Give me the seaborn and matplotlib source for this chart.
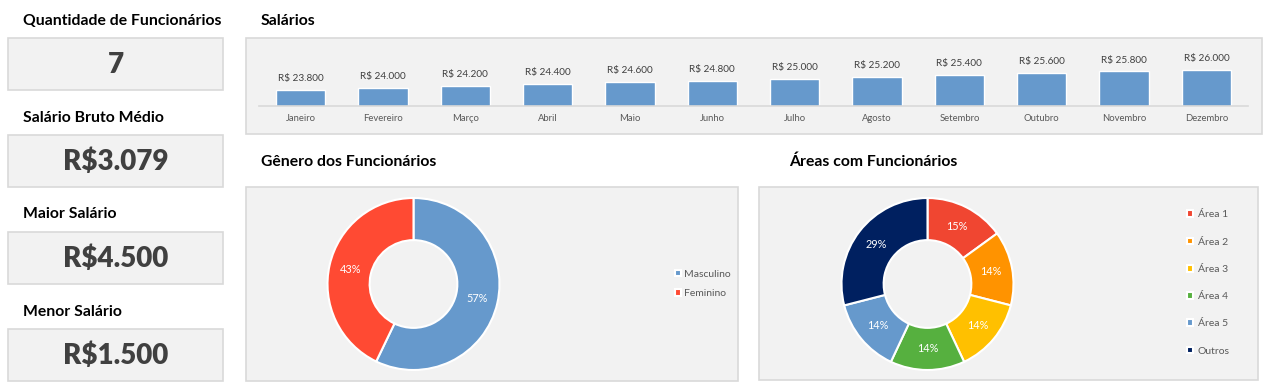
import matplotlib
matplotlib.use("Agg")
import matplotlib.pyplot as plt
import seaborn as sns
from matplotlib.patches import Rectangle

# ---------------- data ----------------
card_titles = ["Quantidade de Funcionários", "Salário Bruto Médio", "Maior Salário", "Menor Salário"]
card_values = ["7", "R$3.079", "R$4.500", "R$1.500"]

months = ["Janeiro", "Fevereiro", "Março", "Abril", "Maio", "Junho",
          "Julho", "Agosto", "Setembro", "Outubro", "Novembro", "Dezembro"]
salaries = [23800, 24000, 24200, 24400, 24600, 24800,
            25000, 25200, 25400, 25600, 25800, 26000]

gender_labels = ["Masculino", "Feminino"]
gender_counts = [4, 3]
gender_colors = ["#6699CC", "#FF4A33"]

area_labels = ["Área 1", "Área 2", "Área 3", "Área 4", "Área 5", "Outros"]
area_values = [15, 14, 14, 14, 14, 29]
area_colors = ["#F04631", "#FF9300", "#FFC000", "#56B03F", "#6699CC", "#002060"]

# ---------------- style ----------------
sns.set_theme(style="white")
plt.rcParams["font.family"] = ["Lato", "DejaVu Sans"]

W, H = 1279, 389
fig = plt.figure(figsize=(W / 100, H / 100), dpi=100)
fig.patch.set_facecolor("white")

PANEL = "#F2F2F2"
BORDER = "#D9D9D9"
DARK = "#404040"
GRAY = "#595959"
TITLE_FS = 11.3


def rect(x0, y0, x1, y1):
    return [x0 / W, 1 - y1 / H, (x1 - x0) / W, (y1 - y0) / H]


def fx(x):
    return x / W


def fy(y):
    return 1 - y / H


def panel(x0, y0, x1, y1):
    fig.patches.append(Rectangle((fx(x0), fy(y1)), (x1 - x0) / W, (y1 - y0) / H,
                                 transform=fig.transFigure, facecolor=PANEL,
                                 edgecolor=BORDER, linewidth=1.2, zorder=-10))


# ---------------- KPI cards ----------------
card_boxes = [(8, 38, 223, 90), (8, 135, 223, 187), (8, 232, 223, 284), (8, 329, 223, 381)]
card_title_y = [21, 118, 214, 312]
for title, val, (x0, y0, x1, y1), ty in zip(card_titles, card_values, card_boxes, card_title_y):
    panel(x0, y0, x1, y1)
    fig.text(fx(23), fy(ty), title, ha="left", va="center", fontsize=TITLE_FS,
             fontweight="bold", color="black")
    fig.text(fx((x0 + x1) / 2), fy((y0 + y1) / 2 + 1), val, ha="center", va="center",
             fontsize=20, fontweight="heavy", color=DARK)

# ---------------- bar chart ----------------
panel(246, 38, 1262, 134)
fig.text(fx(261), fy(21), "Salários", ha="left", va="center", fontsize=TITLE_FS,
         fontweight="bold", color="black")

axb = fig.add_axes(rect(259.3, 40, 1247.7, 106))
axb.set_facecolor("none")
sns.barplot(x=months, y=salaries, color="#6699CC", width=0.6, saturation=1,
            ax=axb, order=months)
axb.set_xlim(-0.5, len(months) - 0.5)
axb.set_ylim(22000, 22000 + 66 * 110)
for s in ["top", "left", "right"]:
    axb.spines[s].set_visible(False)
axb.spines["bottom"].set_color(BORDER)
axb.spines["bottom"].set_linewidth(1.2)
axb.set_yticks([])
axb.set_xlabel("")
axb.set_ylabel("")
axb.tick_params(axis="x", length=0, pad=6, labelsize=6.8, labelcolor=GRAY)
axb.bar_label(axb.containers[0],
              labels=[("R$ {:,.0f}".format(v)).replace(",", ".") for v in salaries],
              padding=5, fontsize=7.2, color=DARK)

# ---------------- donut helper ----------------
R_PX = 86
PAD = 1.05


def donut(cx, cy, values, colors):
    s = R_PX * PAD
    ax = fig.add_axes(rect(cx - s, cy - s, cx + s, cy + s))
    wedges, _, autotexts = ax.pie(values, colors=colors, startangle=90, counterclock=False,
                                  autopct="%.0f%%", pctdistance=0.755,
                                  wedgeprops=dict(width=0.49, edgecolor="white", linewidth=1.5),
                                  textprops=dict(color="white", fontsize=7.8))
    ax.set_xlim(-PAD, PAD)
    ax.set_ylim(-PAD, PAD)
    ax.set_aspect("equal")
    return ax, wedges


# gender donut
panel(246, 187, 738, 381)
fig.text(fx(261), fy(162), "Gênero dos Funcionários", ha="left", va="center",
         fontsize=TITLE_FS, fontweight="bold", color="black")
axg, wg = donut(413.5, 284, gender_counts, gender_colors)
fig.legend(wg, gender_labels, loc="center left", bbox_to_anchor=(fx(675), fy(284)),
           bbox_transform=fig.transFigure, frameon=False, fontsize=7.5,
           handlelength=0.6, handleheight=0.6, handletextpad=0.3, labelspacing=1.0,
           borderpad=0, borderaxespad=0, labelcolor=GRAY)

# areas donut
panel(759, 187, 1258, 380)
fig.text(fx(789), fy(162), "Áreas com Funcionários", ha="left", va="center",
         fontsize=TITLE_FS, fontweight="bold", color="black")
axa, wa = donut(927.5, 284, area_values, area_colors)
fig.legend(wa, area_labels, loc="center left", bbox_to_anchor=(fx(1187), fy(283)),
           bbox_transform=fig.transFigure, frameon=False, fontsize=7.5,
           handlelength=0.6, handleheight=0.6, handletextpad=0.45, labelspacing=1.75,
           borderpad=0, borderaxespad=0, labelcolor=GRAY)

fig.savefig("out.png", dpi=100, facecolor="white")
